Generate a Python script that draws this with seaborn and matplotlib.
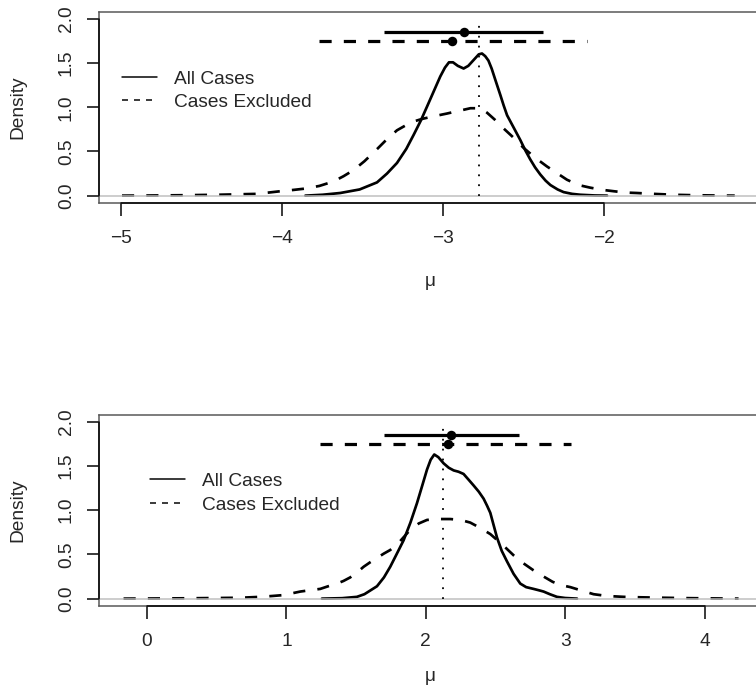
import matplotlib
matplotlib.use("Agg")
import matplotlib.pyplot as plt
from matplotlib.lines import Line2D
import seaborn as sns

# ---------------- data ----------------
# top panel densities
top_all_x = [-3.857, -3.75, -3.64, -3.52, -3.412, -3.35, -3.288, -3.23, -3.184, -3.14,
             -3.101, -3.06, -3.019, -2.99, -2.965, -2.94, -2.91, -2.874, -2.845, -2.81,
             -2.78, -2.76, -2.74, -2.72, -2.70, -2.675, -2.646, -2.625, -2.604, -2.56,
             -2.522, -2.49, -2.46, -2.43, -2.398, -2.365, -2.335, -2.29, -2.253, -2.20,
             -2.149, -2.06, -1.983]
top_all_y = [0.0, 0.01, 0.03, 0.07, 0.15, 0.25, 0.37, 0.53, 0.69, 0.85,
             1.01, 1.18, 1.35, 1.45, 1.51, 1.51, 1.47, 1.44, 1.47, 1.54,
             1.60, 1.61, 1.58, 1.53, 1.44, 1.30, 1.14, 1.02, 0.91, 0.76,
             0.63, 0.51, 0.41, 0.32, 0.24, 0.17, 0.12, 0.07, 0.04, 0.02,
             0.01, 0.002, 0.0]
top_exc_x = [-4.996, -4.8, -4.6, -4.4, -4.157, -4.012, -3.93, -3.857, -3.77, -3.683,
             -3.62, -3.557, -3.49, -3.41, -3.35, -3.288, -3.23, -3.184, -3.13, -3.081,
             -3.03, -2.977, -2.93, -2.88, -2.832, -2.79, -2.76, -2.729, -2.68, -2.625,
             -2.56, -2.501, -2.43, -2.356, -2.29, -2.232, -2.16, -2.087, -2.01, -1.942,
             -1.87, -1.80, -1.693, -1.57, -1.45, -1.32, -1.19]
top_exc_y = [0.0, 0.002, 0.005, 0.01, 0.02, 0.05, 0.065, 0.08, 0.11, 0.16,
             0.22, 0.29, 0.39, 0.53, 0.64, 0.74, 0.80, 0.84, 0.87, 0.89,
             0.91, 0.93, 0.95, 0.97, 0.99, 0.99, 0.98, 0.94, 0.86, 0.76,
             0.65, 0.54, 0.43, 0.33, 0.25, 0.18, 0.12, 0.09, 0.065, 0.05,
             0.035, 0.03, 0.02, 0.01, 0.005, 0.002, 0.0]
# bottom panel densities
bot_all_x = [1.255, 1.40, 1.506, 1.56, 1.60, 1.65, 1.70, 1.745, 1.79, 1.841,
             1.89, 1.937, 1.975, 2.009, 2.035, 2.061, 2.09, 2.128, 2.165, 2.2,
             2.235, 2.271, 2.31, 2.343, 2.38, 2.415, 2.44, 2.463, 2.487, 2.511,
             2.545, 2.583, 2.63, 2.678, 2.72, 2.773, 2.81, 2.845, 2.89, 2.941,
             3.0, 3.085]
bot_all_y = [0.0, 0.005, 0.02, 0.05, 0.09, 0.14, 0.24, 0.36, 0.50, 0.66,
             0.86, 1.08, 1.28, 1.46, 1.57, 1.63, 1.60, 1.53, 1.48, 1.45,
             1.435, 1.41, 1.34, 1.28, 1.21, 1.13, 1.05, 0.97, 0.83, 0.69,
             0.54, 0.42, 0.28, 0.17, 0.13, 0.11, 0.095, 0.08, 0.05, 0.02,
             0.007, 0.0]
bot_exc_x = [-0.168, 0.1, 0.3, 0.5, 0.67, 0.813, 0.90, 0.98, 1.04, 1.1,
             1.17, 1.243, 1.30, 1.363, 1.41, 1.458, 1.51, 1.554, 1.60, 1.65,
             1.70, 1.745, 1.805, 1.85, 1.889, 1.95, 2.009, 2.09, 2.176, 2.25,
             2.319, 2.39, 2.463, 2.55, 2.63, 2.70, 2.773, 2.845, 2.91, 2.965,
             3.037, 3.12, 3.204, 3.30, 3.42, 3.539, 3.7, 3.9, 4.1, 4.244]
bot_exc_y = [0.0, 0.002, 0.004, 0.007, 0.01, 0.02, 0.03, 0.04, 0.06, 0.08,
             0.095, 0.11, 0.14, 0.17, 0.20, 0.24, 0.30, 0.36, 0.41, 0.46,
             0.51, 0.55, 0.63, 0.71, 0.78, 0.85, 0.89, 0.90, 0.90, 0.89,
             0.86, 0.80, 0.73, 0.61, 0.49, 0.40, 0.32, 0.25, 0.19, 0.155,
             0.13, 0.09, 0.05, 0.03, 0.02, 0.015, 0.01, 0.005, 0.002, 0.0]

# intervals: (low, point, high, height)
top_all_int = [-3.37, -2.874, -2.383, 1.85]
top_exc_int = [-3.774, -2.946, -2.107, 1.75]
bot_all_int = [1.697, 2.181, 2.666, 1.85]
bot_exc_int = [1.243, 2.159, 3.042, 1.75]
top_vline = -2.776
bot_vline = 2.121
vline_top = 2.0

top_xticks = [-5, -4, -3, -2]
bot_xticks = [0, 1, 2, 3, 4]
yticks = [0.0, 0.5, 1.0, 1.5, 2.0]
top_xlim = (-5.137, -1.025)
bot_xlim = (-0.342, 4.407)
ylim = (-0.08, 2.08)

legend_labels = ["All Cases", "Cases Excluded"]
xlabel = "\u03bc"
ylabel = "Density"

# ---------------- style ----------------
sns.set_style("white")
plt.rcParams["font.family"] = ["Liberation Sans", "DejaVu Sans"]
plt.rcParams["font.size"] = 13.8

DPI = 100
PX = 72.0 / DPI  # points per pixel
fig = plt.figure(figsize=(7.56, 6.96), dpi=DPI)

W, H = 756.0, 696.0
ax_top = fig.add_axes([99.3 / W, (H - 202.7) / H, 662 / W, 190.7 / H])
ax_bot = fig.add_axes([99.3 / W, (H - 605.7) / H, 662 / W, 191.0 / H])

LW_CURVE = 2.7 * PX
LW_INT = 3.2 * PX
LW_THIN = 1.5 * PX


def panel(ax, all_x, all_y, exc_x, exc_y, all_int, exc_int, vx, xticks, xlim,
          leg_anchor, xlab_off):
    sns.lineplot(x=all_x, y=all_y, ax=ax, color="black", linewidth=LW_CURVE,
                 sort=False, estimator=None, zorder=3)
    sns.lineplot(x=exc_x, y=exc_y, ax=ax, color="black", linewidth=LW_CURVE,
                 sort=False, estimator=None, zorder=3)
    ax.lines[-1].set_dashes([4.5, 4.5])
    for ln in ax.lines:
        ln.set_solid_joinstyle("round")
        ln.set_dash_joinstyle("round")
    # zero line drawn over the curves
    ax.axhline(0, color="#bebebe", linewidth=LW_THIN, zorder=4)
    # vertical dotted line
    vl = ax.vlines([vx], 0, vline_top, colors="black", linewidth=1.8 * PX, zorder=5)
    vl.set_linestyle((0, (1.0, 4.5)))
    # intervals
    ax.hlines([all_int[3]], [all_int[0]], [all_int[2]], colors="black",
              linewidth=LW_INT, zorder=6)
    h2 = ax.hlines([exc_int[3]], [exc_int[0]], [exc_int[2]], colors="black",
                   linewidth=LW_INT, zorder=6)
    h2.set_linestyle((0, (3.8, 3.8)))
    sns.scatterplot(x=[all_int[1], exc_int[1]], y=[all_int[3], exc_int[3]], ax=ax,
                    color="black", s=(9.5 * PX) ** 2, linewidth=0, zorder=7)

    ax.set_xlim(*xlim)
    ax.set_ylim(*ylim)
    ax.set_xticks(xticks)
    ax.set_yticks(yticks)
    ax.set_xticklabels([f"{t:d}".replace("-", "\u2212") for t in xticks])
    ax.set_yticklabels([f"{t:.1f}" for t in yticks], rotation=90, va="center", ha="center")
    for lab in ax.get_xticklabels():
        lab.set_va("center")
    ax.tick_params(axis="both", direction="out", length=12.5 * PX, width=1.5 * PX,
                   color="black", labelsize=13.8, left=True, bottom=True)
    ax.tick_params(axis="x", pad=23 * PX)
    ax.tick_params(axis="y", pad=20.5 * PX)
    for s in ["top", "left", "bottom", "right"]:
        ax.spines[s].set_visible(True)
        ax.spines[s].set_color("#555555")
        ax.spines[s].set_linewidth(1.5 * PX)
    ax.grid(False)
    # axis lines (first to last tick) in black, R style
    ax.plot([xticks[0], xticks[-1]], [ylim[0], ylim[0]], color="black",
            linewidth=1.5 * PX, clip_on=False, zorder=8)
    ax.plot([xlim[0], xlim[0]], [yticks[0], yticks[-1]], color="black",
            linewidth=1.5 * PX, clip_on=False, zorder=8)

    ax.set_xlabel(xlabel, fontsize=13.8, va="center")
    ax.xaxis.set_label_coords(0.5, xlab_off)
    ax.set_ylabel(ylabel, fontsize=13.8, va="center", ha="center")
    ax.yaxis.set_label_coords(-(99.3 - 18.3) / 662.0, 0.5)

    handles = [Line2D([], [], color="black", linewidth=LW_THIN),
               Line2D([], [], color="black", linewidth=LW_THIN, dashes=(4, 4))]
    ax.legend(handles, legend_labels, loc="upper left", bbox_to_anchor=leg_anchor,
              frameon=False, borderpad=0, borderaxespad=0, handlelength=1.82,
              handletextpad=0.88, labelspacing=0.32, fontsize=13.8)


panel(ax_top, top_all_x, top_all_y, top_exc_x, top_exc_y, top_all_int, top_exc_int,
      top_vline, top_xticks, top_xlim, (0.0347, 0.695), -(281.7 - 202.7) / 190.7)
panel(ax_bot, bot_all_x, bot_all_y, bot_exc_x, bot_exc_y, bot_all_int, bot_exc_int,
      bot_vline, bot_xticks, bot_xlim, (0.077, 0.697), -(676.7 - 605.7) / 191.0)

fig.savefig("out.png", dpi=DPI)
